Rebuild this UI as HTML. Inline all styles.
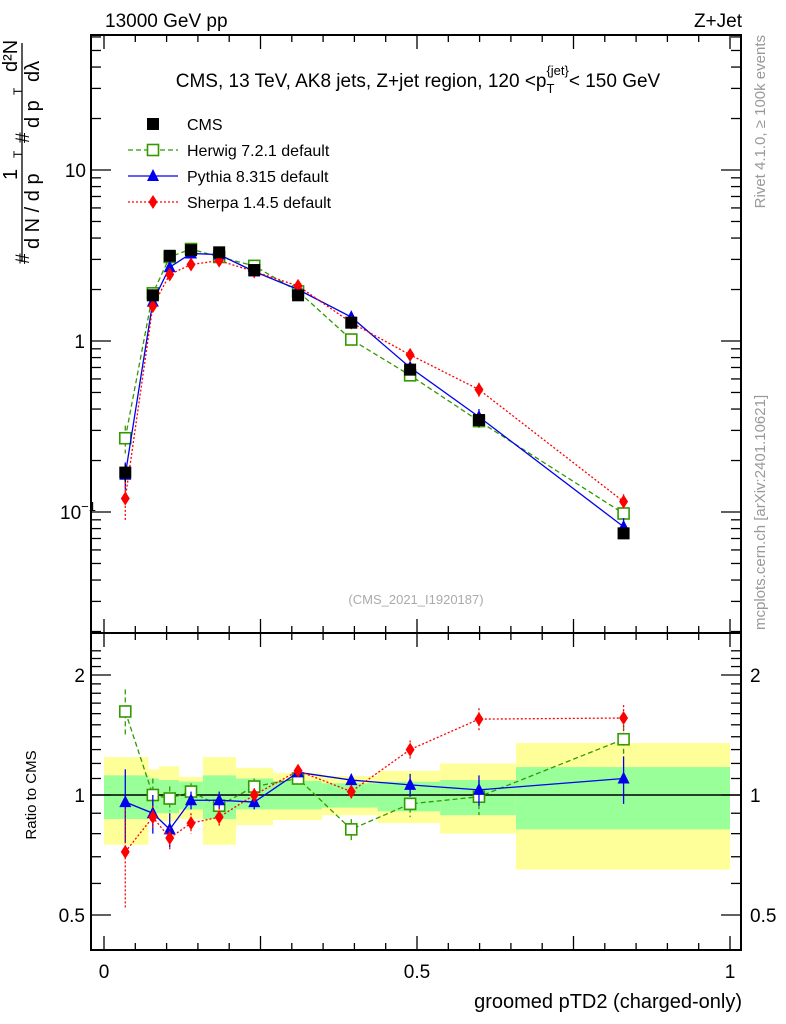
<!DOCTYPE html>
<html><head><meta charset="utf-8"><style>
body{margin:0;background:#fff;}
svg{display:block;font-family:"Liberation Sans",sans-serif;}
</style></head><body>
<svg id="c" width="786" height="1024" viewBox="0 0 786 1024">
<text x="105" y="27" font-size="19">13000 GeV pp</text>
<text x="742" y="27" font-size="19" text-anchor="end">Z+Jet</text>
<text x="418" y="87" font-size="19" text-anchor="middle">CMS, 13 TeV, AK8 jets, Z+jet region, 120 &lt;p<tspan font-size="13" dy="6">T</tspan><tspan font-size="13" dy="-18" dx="-8">{jet}</tspan><tspan dy="12">&lt; 150 GeV</tspan></text>
<text transform="translate(765,35) rotate(-90)" font-size="15" fill="#999" text-anchor="end">Rivet 4.1.0, ≥ 100k events</text>
<text transform="translate(765,630) rotate(-90)" font-size="15" fill="#999">mcplots.cern.ch [arXiv:2401.10621]</text>
<text x="416" y="604" font-size="13" fill="#aaa" text-anchor="middle">(CMS_2021_I1920187)</text>
<text x="742" y="1008" font-size="20" text-anchor="end">groomed pTD2 (charged-only)</text>
<text transform="translate(36,795) rotate(-90)" font-size="15" text-anchor="middle">Ratio to CMS</text>
<g>
<line x1="22" y1="43" x2="22" y2="262" stroke="#000" stroke-width="1.3"/>
<text transform="translate(29,264) rotate(-90)" font-size="19">#</text>
<text transform="translate(29,143) rotate(-90)" font-size="19">#</text>
<text transform="translate(39,249) rotate(-90)" font-size="20">d N / d p</text>
<text transform="translate(22,158) rotate(-90)" font-size="12">T</text>
<text transform="translate(39,128) rotate(-90)" font-size="20">d p</text>
<text transform="translate(22,95) rotate(-90)" font-size="12">T</text>
<text transform="translate(39,82) rotate(-90)" font-size="20">dλ</text>
<text transform="translate(17,180) rotate(-90)" font-size="20">1</text>
<text transform="translate(17,72) rotate(-90)" font-size="20">d²N</text>
</g>
<g id="g"></g>
</svg>
<script>
const xs=[0.034,0.078,0.105,0.139,0.184,0.240,0.310,0.395,0.489,0.599,0.830];
const cmsVals=[0.17,1.85,3.15,3.4,3.3,2.6,1.85,1.28,0.68,0.345,0.075];
const cmsErr=[0.02,0.12,0.15,0.12,0.12,0.1,0.07,0.07,0.04,0.03,0.005];
const herwigVals=[0.27,1.9,3.1,3.45,3.1,2.75,1.95,1.02,0.63,0.34,0.098];
const herwigErr=[0.05,0.15,0.15,0.12,0.12,0.1,0.08,0.05,0.04,0.03,0.008];
const pythiaVals=[0.165,1.7,2.7,3.25,3.2,2.55,2.0,1.38,0.7,0.36,0.082];
const pythiaErr=[0.03,0.12,0.15,0.12,0.12,0.1,0.08,0.07,0.05,0.04,0.01];
const sherpaVals=[0.12,1.6,2.45,2.8,2.95,2.55,2.1,1.28,0.83,0.52,0.115];
const sherpaErr=[0.03,0.12,0.12,0.12,0.12,0.1,0.08,0.07,0.06,0.05,0.012];
const herwigRatio=[1.62,1.0,0.98,1.02,0.94,1.05,1.10,0.82,0.95,0.99,1.38];
const herwigRatioErr=[0.22,0.1,0.07,0.05,0.05,0.05,0.05,0.05,0.07,0.1,0.12];
const pythiaRatio=[0.96,0.9,0.82,0.97,0.97,0.96,1.14,1.09,1.06,1.03,1.10];
const pythiaRatioErr=[0.2,0.1,0.08,0.05,0.05,0.04,0.03,0.04,0.07,0.09,0.15];
const sherpaRatio=[0.72,0.88,0.78,0.85,0.88,1.0,1.15,1.02,1.3,1.55,1.56];
const sherpaRatioErr=[0.2,0.06,0.05,0.05,0.05,0.04,0.04,0.04,0.07,0.1,0.12];
const binEdges=[0,0.071,0.088,0.120,0.158,0.211,0.270,0.348,0.437,0.537,0.658,1.0];
const yellowHi=[1.245,1.16,1.18,1.11,1.245,1.17,1.135,1.116,1.15,1.2,1.35];
const yellowLo=[0.75,0.87,0.86,0.87,0.75,0.84,0.865,0.89,0.85,0.80,0.65];
const greenHi=[1.12,1.1,1.09,1.08,1.12,1.1,1.085,1.07,1.08,1.09,1.175];
const greenLo=[0.87,0.9,0.9,0.92,0.87,0.92,0.92,0.93,0.91,0.89,0.82];
const xTicks=[0,0.5,1];const xTickLabels=["0","0.5","1"];
const ratioTicks=[0.5,1,2];const ratioTickLabels=["0.5","1","2"];

const NS="http://www.w3.org/2000/svg",G=document.getElementById('g');
const L=91,R=741,T1=35,B1=633,B2=950;
const X=v=>104+626*v;
const Y=v=>341-171*Math.log10(v);
const YR=v=>795-120*Math.log2(v);
function el(t,a,p){const e=document.createElementNS(NS,t);for(const k in a)e.setAttribute(k,a[k]);(p||G).appendChild(e);return e;}
for(let i=0;i<binEdges.length-1;i++){
 const y=el('rect',{x:X(binEdges[i]),y:YR(yellowHi[i]),width:X(binEdges[i+1])-X(binEdges[i]),height:YR(yellowLo[i])-YR(yellowHi[i]),fill:'#ffff99'});
 
 
 const g=el('rect',{x:X(binEdges[i]),y:YR(greenHi[i]),width:X(binEdges[i+1])-X(binEdges[i]),height:YR(greenLo[i])-YR(greenHi[i]),fill:'#99ff99'});
 
 
}
el('line',{x1:L,x2:R,y1:YR(1),y2:YR(1),stroke:'#000','stroke-width':1.5});
el('rect',{x:L,y:T1,width:R-L,height:B1-T1,fill:'none',stroke:'#000','stroke-width':2});
el('rect',{x:L,y:B1,width:R-L,height:B2-B1,fill:'none',stroke:'#000','stroke-width':2});
for(let i=0;i<=20;i++){const v=i*0.05,len=(i%5==0)?14:7;
 for(const [yb,d] of [[B1,-1],[B2,-1],[T1,1],[B1,1]]) el('line',{x1:X(v),x2:X(v),y1:yb,y2:yb+d*len,stroke:'#000','stroke-width':1.3});}
xTicks.forEach((v,i)=>{const t=el('text',{x:X(v),y:978,'font-size':19,'text-anchor':'middle'});t.textContent=xTickLabels[i];
 
 });
for(let d=-2;d<=1;d++)for(let m=1;m<=9;m++){const v=m*Math.pow(10,d),y=Y(v);if(y<T1||y>B1)continue;const len=m==1?20:10;
 el('line',{x1:L,x2:L+len,y1:y,y2:y,stroke:'#000','stroke-width':1.3});el('line',{x1:R,x2:R-len,y1:y,y2:y,stroke:'#000','stroke-width':1.3});}
[[0.1,'10'],[1,'1'],[10,'10']].forEach(([v,s],i)=>{const t=el('text',{x:i==0?60:(i==1?85:86),y:Y(v)+7,'font-size':19,'text-anchor':i==0?'start':'end'});
 t.textContent=s;if(i==0){const sp=el('tspan',{dy:-8,'font-size':13},t);sp.textContent='−1';}
 
 });
for(let v=0.3;v<=2.4;v+=0.1){const y=YR(v);if(y<B1||y>B2)continue;const maj=ratioTicks.some(t=>Math.abs(t-v)<1e-6);const len=maj?20:10;
 el('line',{x1:L,x2:L+len,y1:y,y2:y,stroke:'#000','stroke-width':1.3});el('line',{x1:R,x2:R-len,y1:y,y2:y,stroke:'#000','stroke-width':1.3});}
ratioTicks.forEach((v,i)=>{for(const [x,a] of [[85,'end'],[750,'start']]){const t=el('text',{x,y:YR(v)+7,'font-size':19,'text-anchor':a});t.textContent=ratioTickLabels[i];
 
 }});
function marker(type,x,y,c){
 if(type=='sq')return el('rect',{x:x-6,y:y-6,width:12,height:12,fill:'#000'});
 if(type=='osq')return el('rect',{x:x-5.5,y:y-5.5,width:11,height:11,fill:'#fff',stroke:c,'stroke-width':1.6});
 if(type=='tri')return el('path',{d:`M${x},${y-7}L${x+6},${y+5}L${x-6},${y+5}Z`,fill:c});
 return el('path',{d:`M${x},${y-7}L${x+4.5},${y}L${x},${y+7}L${x-4.5},${y}Z`,fill:c});
}
function series(name,vals,errs,Yf,c,dash,type,line){
 if(line){const p=el('polyline',{points:vals.map((v,i)=>X(xs[i])+','+Yf(v)).join(' '),fill:'none',stroke:c,'stroke-width':1.3,'stroke-dasharray':dash});
  
  }
 vals.forEach((v,i)=>{const x=X(xs[i]);
  const e=el('line',{x1:x,x2:x,y1:Yf(v+errs[i]),y2:Yf(Math.max(v-errs[i],1e-3)),stroke:c,'stroke-width':1.3,'stroke-dasharray':dash});
  
  
  const m=marker(type,x,Yf(v),c);
  
  });
}
series('herwig',herwigVals,herwigErr,Y,'#339900','5,3','osq',true);
series('pythia',pythiaVals,pythiaErr,Y,'#0000ee','','tri',true);
series('sherpa',sherpaVals,sherpaErr,Y,'#ff0000','2,2','dia',true);
series('cms',cmsVals,cmsErr,Y,'#000','','sq',false);
series('herwig-ratio',herwigRatio,herwigRatioErr,YR,'#339900','5,3','osq',true);
series('pythia-ratio',pythiaRatio,pythiaRatioErr,YR,'#0000ee','','tri',true);
series('sherpa-ratio',sherpaRatio,sherpaRatioErr,YR,'#ff0000','2,2','dia',true);
const leg=[['CMS','#000','','sq',false],['Herwig 7.2.1 default','#339900','5,3','osq',true],['Pythia 8.315 default','#0000ee','','tri',true],['Sherpa 1.4.5 default','#ff0000','2,2','dia',true]];
leg.forEach((l,i)=>{const y=124+26*i;
 if(l[4]){const ln=el('line',{x1:128,x2:178,y1:y,y2:y,stroke:l[1],'stroke-width':1.3,'stroke-dasharray':l[2]});
  
  }
 marker(l[3],153,y,l[1]);
 const t=el('text',{x:187,y:y+6,'font-size':16});t.textContent=l[0];
 
 });
</script>
</body></html>
